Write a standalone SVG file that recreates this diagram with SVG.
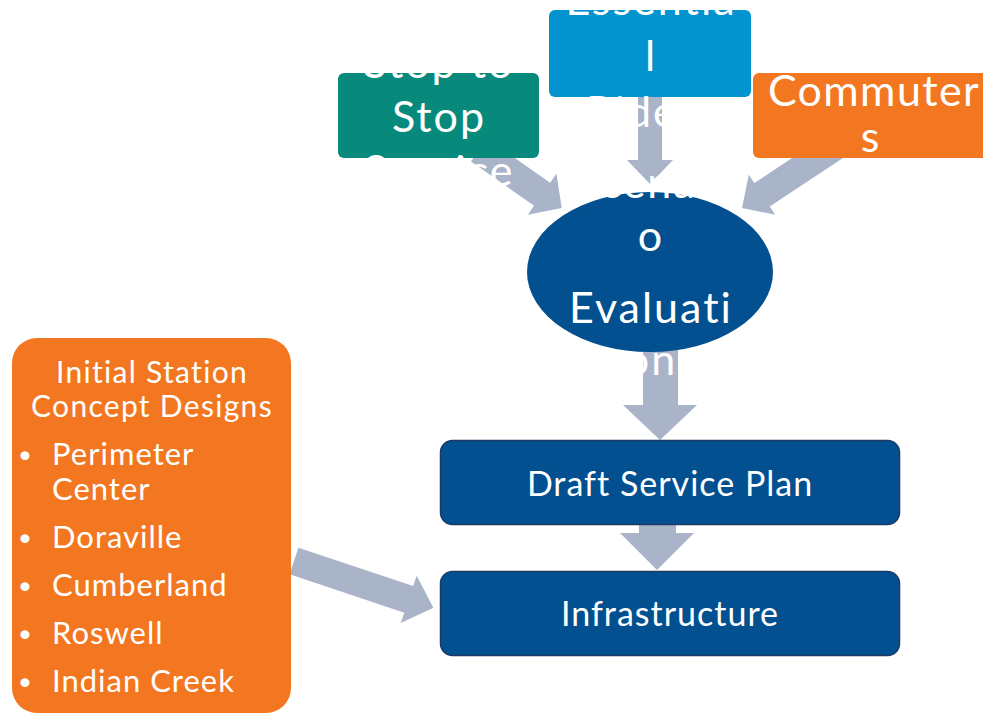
<svg xmlns="http://www.w3.org/2000/svg" width="983" height="714" viewBox="0 0 983 714">
<defs>
<style>
.arrow{fill:#AAB4C8}
.t{font-family:Lato,"Open Sans","Liberation Sans",sans-serif;fill:#ffffff}
.big{font-size:43px;text-anchor:middle;letter-spacing:2px}
.mid{font-size:34px;text-anchor:middle;letter-spacing:1px}
.sm{font-size:31px;letter-spacing:1px}
.hd{font-size:30px;letter-spacing:1.3px;text-anchor:middle}
.bul{font-size:24px}
</style>
</defs>
<rect width="983" height="714" fill="#ffffff"/>
<g id="connectors">
<polygon class="arrow" points="638,90 662,90 662,160 673,160 650,184 627,160 638,160"/>
<polygon class="arrow" points="643,345 678,345 678,405 697,405 660,440 623,405 643,405"/>
<polygon class="arrow" points="639,520 676,520 676,533 694,533 657,570 620,533 639,533"/>
<polygon class="arrow" transform="translate(479,150) rotate(35)" points="0,-14 77,-14 77,-25 101,0 77,25 77,14 0,14"/>
<polygon class="arrow" transform="translate(742,208) rotate(-33.5)" points="0,0 24,-24 24,-14 115,-14 115,14 24,14 24,24"/>
<polygon class="arrow" transform="translate(294,561) rotate(18.5)" points="0,-14 121,-14 121,-25 147,0 121,25 121,14 0,14"/>
</g>
<g id="stop-to-stop">
<rect x="338" y="73" width="201" height="85" rx="6" fill="#078A7B"/>
<text class="t big" x="439" y="78">Stop to</text>
<text class="t big" x="439" y="132">Stop</text>
<text class="t big" x="439" y="186">Service</text>
</g>
<g id="essential-riders">
<rect x="549" y="10" width="202" height="87" rx="6" fill="#0394CF"/>
<text class="t big" x="651" y="15">Essentia</text>
<text class="t big" x="651" y="71">l</text>
<text class="t big" x="651" y="127">Riders</text>
</g>
<g id="commuters">
<rect x="753" y="73" width="250" height="85" rx="6" fill="#F37721"/>
<text class="t big" x="874" y="106" style="letter-spacing:1.4px">Commuter</text>
<text class="t big" x="871" y="152">s</text>
</g>
<g id="scenario-evaluation">
<ellipse cx="650" cy="272" rx="123" ry="80" fill="#02508F"/>
<text class="t big" x="651" y="198">Scenari</text>
<text class="t big" x="651" y="251">o</text>
<text class="t big" x="651" y="323">Evaluati</text>
<text class="t big" x="651" y="375">on</text>
</g>
<g id="draft-service-plan">
<rect x="440.5" y="440.5" width="459" height="84" rx="12" fill="#02508F" stroke="#1B3A66" stroke-width="1.5"/>
<text class="t mid" x="670" y="496">Draft Service Plan</text>
</g>
<g id="infrastructure">
<rect x="440.5" y="571.5" width="459" height="84" rx="12" fill="#02508F" stroke="#1B3A66" stroke-width="1.5"/>
<text class="t mid" x="670" y="626">Infrastructure</text>
</g>
<g id="initial-station-concept-designs">
<rect x="12" y="338" width="279" height="375" rx="25" fill="#F37721"/>
<text class="t hd" x="152" y="383">Initial Station</text>
<text class="t hd" x="152" y="417">Concept Designs</text>
<text class="t bul" x="18" y="463">•</text><text class="t sm" x="52" y="465">Perimeter</text>
<text class="t sm" x="52" y="500">Center</text>
<text class="t bul" x="18" y="546">•</text><text class="t sm" x="52" y="548">Doraville</text>
<text class="t bul" x="18" y="594">•</text><text class="t sm" x="52" y="596">Cumberland</text>
<text class="t bul" x="18" y="642">•</text><text class="t sm" x="52" y="644">Roswell</text>
<text class="t bul" x="18" y="690">•</text><text class="t sm" x="52" y="692">Indian Creek</text>
</g>
</svg>
